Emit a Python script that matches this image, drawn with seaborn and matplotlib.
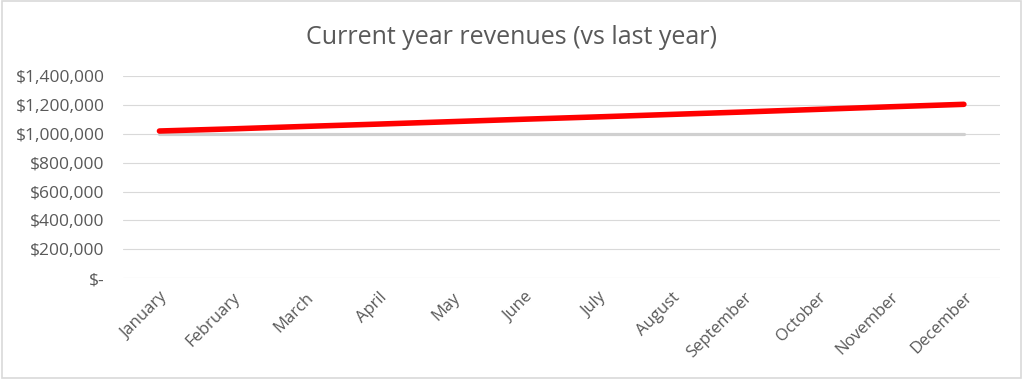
import matplotlib
matplotlib.use("Agg")
import pandas as pd
import seaborn as sns
from matplotlib import pyplot as plt
from matplotlib.patches import Rectangle
from matplotlib.ticker import FuncFormatter

months = ["January", "February", "March", "April", "May", "June", "July",
          "August", "September", "October", "November", "December"]
current_year = [1020000, 1035000, 1052000, 1068000, 1085000, 1102000,
                1118000, 1135000, 1152000, 1170000, 1188000, 1205000]
last_year = [1000000, 1000000, 1000000, 1000000, 1000000, 1000000,
             1000000, 1000000, 1000000, 1000000, 1000000, 1000000]
y_ticks = [0, 200000, 400000, 600000, 800000, 1000000, 1200000, 1400000]


def money(v, pos):
    if v == 0:
        return "$-"
    return f"${v:,.0f}"


if __name__ == "__main__":
    sns.set_style("white")
    plt.rcParams["font.family"] = ["Open Sans", "DejaVu Sans"]

    df = pd.DataFrame({
        "month": months * 2,
        "revenue": last_year + current_year,
        "series": ["Last year"] * 12 + ["Current year"] * 12,
    })

    fig = plt.figure(figsize=(10.24, 3.79), dpi=100)
    ax = fig.add_axes([0.120, 0.266, 0.857, 0.533])
    sns.lineplot(
        data=df, x="month", y="revenue", hue="series",
        palette={"Last year": "#d0d0d0", "Current year": "#ff0000"},
        size="series", sizes={"Last year": 2.3, "Current year": 4.0},
        legend=False, ax=ax, solid_capstyle="round", sort=False,
    )
    ax.set_xlim(-0.5, 11.5)
    ax.set_ylim(0, 1400000)
    ax.set_yticks(y_ticks)
    ax.yaxis.set_major_formatter(FuncFormatter(money))
    ax.grid(axis="y", color="#d9d9d9", linewidth=0.8)
    ax.set_axisbelow(True)
    for s in ax.spines.values():
        s.set_visible(False)
    ax.tick_params(axis="y", length=0, labelsize=12.5, labelcolor="#595959", pad=13)
    ax.tick_params(axis="x", length=0, labelsize=12, labelcolor="#595959", pad=8)
    plt.setp(ax.get_xticklabels(), rotation=45, ha="right", rotation_mode="anchor")
    ax.set_xlabel("")
    ax.set_ylabel("")
    fig.text(0.5, 0.9, "Current year revenues (vs last year)", ha="center",
             va="center", fontsize=18, color="#595959")
    fig.patches.append(Rectangle((0.002, 0.003), 0.995, 0.994, transform=fig.transFigure,
                                 fill=False, edgecolor="#d9d9d9", linewidth=1.2))
    fig.savefig("out.png", dpi=100)
